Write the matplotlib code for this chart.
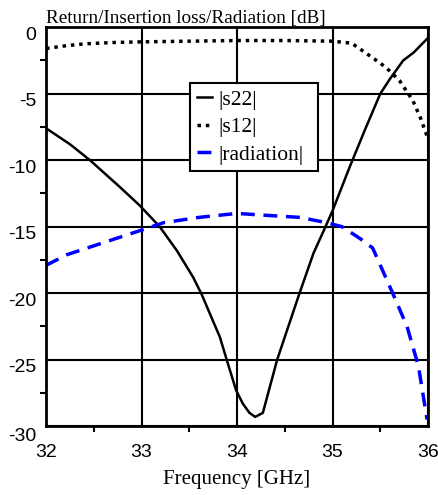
import matplotlib
matplotlib.use("Agg")
import matplotlib.pyplot as plt
import matplotlib.transforms as mtransforms
from matplotlib.ticker import MultipleLocator

plt.rcParams["axes.unicode_minus"] = False

# |s22| return loss
f_s22 = [32.0, 32.25, 32.46, 32.77, 32.98, 33.19, 33.37, 33.54, 33.63, 33.82,
         33.9, 33.99, 34.06, 34.13, 34.19, 34.27, 34.42, 34.64, 34.8, 34.92,
         35.0, 35.18, 35.34, 35.5, 35.6, 35.74, 35.85, 36.0]
s22 = [-7.6, -8.8, -10.0, -12.0, -13.4, -15.0, -16.8, -18.8, -20.1, -23.3,
       -25.2, -27.3, -28.3, -29.0, -29.3, -29.0, -25.0, -20.3, -17.0, -15.1,
       -13.8, -10.5, -7.7, -5.0, -3.9, -2.5, -1.9, -0.8]

# |s12| insertion loss
f_s12 = [32.0, 32.2, 32.4, 32.7, 33.0, 33.5, 34.0, 34.5, 35.0, 35.2, 35.36,
         35.5, 35.57, 35.7, 35.84, 35.92, 36.0]
s12 = [-1.6, -1.4, -1.25, -1.15, -1.1, -1.05, -1.0, -1.0, -1.05, -1.2, -2.0,
       -2.7, -3.1, -4.0, -5.5, -6.8, -8.4]

# |radiation|
f_rad = [32.0, 32.22, 32.6, 32.98, 33.23, 33.6, 34.0, 34.21, 34.66, 34.94,
         35.1, 35.29, 35.42, 35.63, 35.78, 35.9, 35.99]
rad = [-17.9, -17.1, -16.2, -15.3, -14.7, -14.3, -14.0, -14.1, -14.3, -14.7,
       -15.0, -15.9, -16.6, -20.0, -22.5, -25.5, -29.5]

fig = plt.figure(figsize=(4.39, 4.95), dpi=100)
ax = fig.add_axes([0.105, 0.139, 0.87, 0.806])

ax.plot(f_s22, s22, color="black", lw=1.8, label="|s22|")
ax.plot(f_s12, s12, color="black", lw=2.5, linestyle=(0, (1, 1.4)), label="|s12|")
ax.plot(f_rad, rad, color="#0000ff", lw=2.5, linestyle=(0, (4, 2.5)), label="|radiation|")

ax.set_xlim(32, 36)
ax.set_ylim(-30, 0)
ax.xaxis.set_major_locator(MultipleLocator(1))
ax.xaxis.set_minor_locator(MultipleLocator(0.5))
ax.yaxis.set_major_locator(MultipleLocator(5))
ax.yaxis.set_minor_locator(MultipleLocator(2.5))
ax.grid(True, which="major", color="black", lw=1.5)
ax.tick_params(which="major", length=0, labelsize=14)
ax.tick_params(axis="x", which="major", pad=13)
ax.tick_params(axis="y", which="major", pad=7)
ax.tick_params(which="minor", length=4, width=1.5, direction="out")
for sp in ax.spines.values():
    sp.set_linewidth(2)

for lab in ax.get_xticklabels() + ax.get_yticklabels():
    lab.set_fontfamily("Liberation Sans")

# y labels sit a bit lower than their grid lines
for lab in ax.get_yticklabels():
    off = -4.5 if lab.get_text() != "-30" else -6
    lab.set_transform(lab.get_transform() + mtransforms.ScaledTranslation(0, off / 72, fig.dpi_scale_trans))

ax.set_xlabel("Frequency [GHz]", family="Liberation Serif", fontsize=15, labelpad=6)
ax.set_title("Return/Insertion loss/Radiation [dB]", family="Liberation Serif",
             fontsize=13.8, loc="left", pad=3)

leg = ax.legend(loc="upper left", bbox_to_anchor=(0.377, 0.642, 0.335, 0.218),
                mode="expand", handlelength=0.7, handletextpad=0.3, borderpad=0.3,
                labelspacing=0.35, fancybox=False,
                prop={"family": "Liberation Serif", "size": 15.5}, framealpha=1,
                borderaxespad=0)
leg.get_frame().set_edgecolor("black")
leg.get_frame().set_linewidth(1.5)

fig.savefig("out.png", dpi=100)
